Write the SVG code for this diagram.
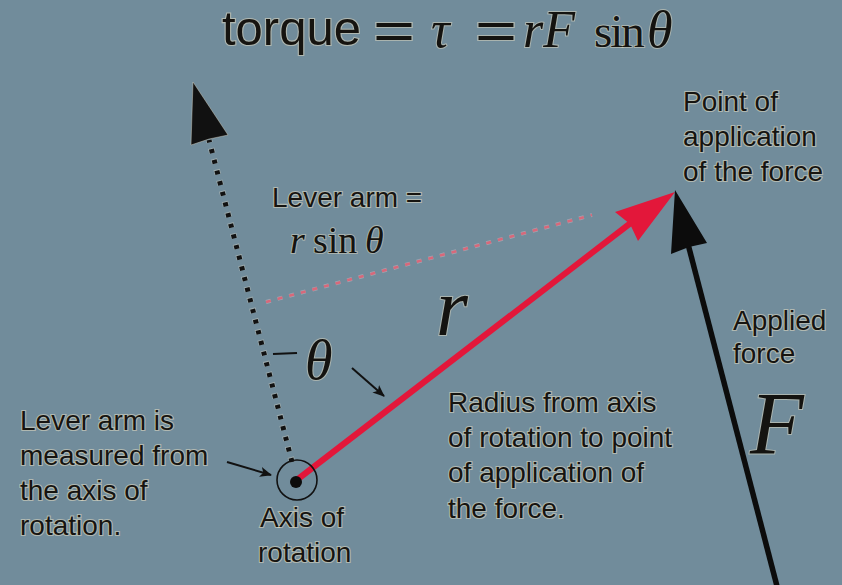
<svg xmlns="http://www.w3.org/2000/svg" width="842" height="585" viewBox="0 0 842 585">
<defs>
<style>
.lbl{font-family:"Liberation Sans",Arial,sans-serif;font-size:28px;fill:#161410;stroke:#efe4c8;stroke-width:2.2px;stroke-opacity:0.5;paint-order:stroke;}
.math{font-family:"Liberation Serif","Times New Roman",serif;fill:#141310;stroke:#efe4c8;stroke-width:2px;stroke-opacity:0.45;paint-order:stroke;}
.eq{font-family:"Liberation Sans",Arial,sans-serif;fill:#141310;stroke:#efe4c8;stroke-width:2px;stroke-opacity:0.45;paint-order:stroke;}
.it{font-style:italic;}
.thin{stroke:#111;stroke-width:2;fill:none;}
</style>
<marker id="ah" viewBox="0 0 12 10" refX="11" refY="5" markerWidth="12" markerHeight="10" markerUnits="userSpaceOnUse" orient="auto">
<path d="M0,0 L12,5 L0,10 L3,5 Z" fill="#111"/>
</marker>
</defs>
<rect width="842" height="585" fill="#718c9b"/>

<g id="connectors">
  <!-- pink dotted lever arm -->
  <line x1="266" y1="302" x2="592" y2="215" stroke="#f0d8dc" stroke-width="4" stroke-dasharray="5 7" stroke-opacity="0.35"/>
  <line x1="266" y1="302" x2="592" y2="215" stroke="#d8687a" stroke-width="2.6" stroke-dasharray="5 7"/>
  <!-- dotted line arm -->
  <line x1="292" y1="462" x2="209" y2="140" stroke="#e8e0cc" stroke-width="6.5" stroke-dasharray="5 6" stroke-opacity="0.35"/>
  <line x1="292" y1="462" x2="209" y2="140" stroke="#111" stroke-width="5" stroke-dasharray="4 7"/>
  <polygon points="193,82 191,145 209,139 228,135" fill="#111" stroke="#e8e0cc" stroke-opacity="0.4" stroke-width="1"/>
  <!-- red radius vector -->
  <line x1="298" y1="479" x2="632" y2="222" stroke="#e3173a" stroke-width="6"/>
  <polygon points="675,192 615,212 630,224 638,241" fill="#e3173a"/>
  <!-- applied force -->
  <line x1="778" y1="590" x2="688" y2="244" stroke="#0c0c0c" stroke-width="5.5"/>
  <polygon points="675,190 671,254 689,247 707,243" fill="#0c0c0c"/>
  <!-- small pointer arrows -->
  <line x1="227" y1="462" x2="271" y2="475" class="thin" marker-end="url(#ah)"/>
  <line x1="352" y1="368" x2="384" y2="396" class="thin" marker-end="url(#ah)"/>
  <line x1="273" y1="354" x2="297" y2="353" class="thin" stroke-width="2.5"/>
</g>

<g id="axis">
  <circle cx="297" cy="480" r="20" fill="none" stroke="#111" stroke-width="1.6"/>
  <circle cx="296" cy="482" r="6" fill="#0c0c0c"/>
  <text class="lbl" x="260" y="527">Axis of</text>
  <text class="lbl" x="258" y="562">rotation</text>
</g>

<g id="title">
  <text class="lbl" x="222" y="45" style="font-size:49px">torque</text>
  <text class="eq" x="373" y="49" font-size="53" textLength="42" lengthAdjust="spacingAndGlyphs">=</text>
  <text class="math it" x="431" y="47" font-size="52">τ</text>
  <text class="eq" x="475" y="49" font-size="53" textLength="42" lengthAdjust="spacingAndGlyphs">=</text>
  <text class="math it" x="523" y="47" font-size="52">rF</text>
  <text class="math" x="594" y="47" font-size="47" letter-spacing="-2">sin</text>
  <text class="math it" x="647" y="47" font-size="52">θ</text>
</g>

<g id="lever-arm-label">
  <text class="lbl" x="272" y="207">Lever arm =</text>
  <text class="math" y="253" font-size="38"><tspan class="it" x="290">r</tspan><tspan x="313">sin</tspan><tspan class="it" x="365">θ</tspan></text>
</g>

<g id="point-label">
  <text class="lbl" x="683" y="111">Point of</text>
  <text class="lbl" x="683" y="146">application</text>
  <text class="lbl" x="683" y="181">of the force</text>
</g>

<g id="r-label">
  <text class="math it" x="436" y="335" font-size="82">r</text>
</g>

<g id="theta-label">
  <text class="math it" x="305" y="379" font-size="56">θ</text>
</g>

<g id="force-label">
  <text class="lbl" x="733" y="330">Applied</text>
  <text class="lbl" x="733" y="363">force</text>
  <text class="math it" x="750" y="453" font-size="88">F</text>
</g>

<g id="radius-label">
  <text class="lbl" x="448" y="412">Radius from axis</text>
  <text class="lbl" x="448" y="447">of rotation to point</text>
  <text class="lbl" x="448" y="482">of application of</text>
  <text class="lbl" x="448" y="518">the force.</text>
</g>

<g id="lever-note">
  <text class="lbl" x="20" y="430">Lever arm is</text>
  <text class="lbl" x="20" y="465">measured from</text>
  <text class="lbl" x="20" y="500">the axis of</text>
  <text class="lbl" x="20" y="535">rotation.</text>
</g>
</svg>
